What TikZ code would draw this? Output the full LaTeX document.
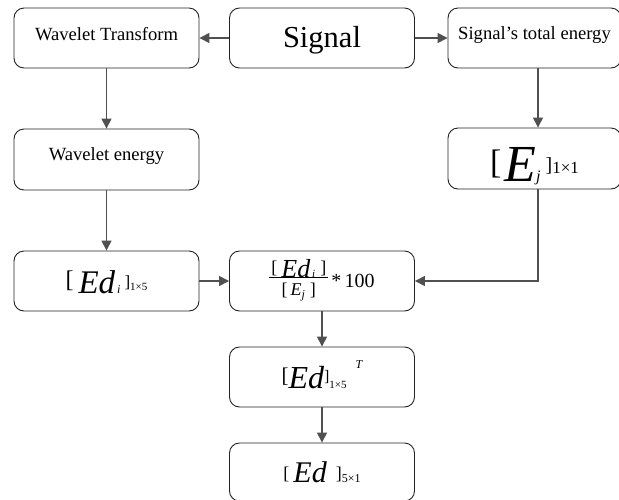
\documentclass[tikz,border=0pt]{standalone}
\usepackage{fontspec}
\setmainfont{Liberation Serif}
\usetikzlibrary{arrows.meta}
\definecolor{arrc}{HTML}{505050}
\definecolor{boxc}{HTML}{222222}
\newcommand{\fsz}[1]{\fontsize{#1}{#1}\selectfont}
\begin{document}
\begin{tikzpicture}[x=1pt,y=-1pt,
  box/.style={draw=boxc,line width=0.9pt,rounded corners=10pt,minimum width=185pt,minimum height=60pt,inner sep=0pt},
  arr/.style={draw=arrc,line width=1.4pt,-{Triangle[length=10pt,width=10pt]}}]
\useasboundingbox (0,0) rectangle (619,499);
\begin{scope}
\clip (0,0) rectangle (619,499);
\node[box] (wt) at (106.5,38) {\smash{\raisebox{-2pt}{\fsz{18.6}Wavelet Transform}}};
\node[box] (sig) at (322,38) {\smash{\raisebox{-9.5pt}{\fsz{30.5}Signal}}};
\node[box,minimum width=173pt] (ste) at (534.5,38) {\smash{\raisebox{-1pt}{\fsz{18.6}Signal’s total energy}}};
\node[box,minimum height=61pt] (we) at (106.5,159.5) {\smash{\raisebox{-0.5pt}{\fsz{18.6}Wavelet energy}}};
\node[box,minimum width=173pt,minimum height=61pt] (ej) at (534.5,158.5) {\smash{\raisebox{-23pt}{%
  \raisebox{8pt}{\fsz{34}[}\hspace{3pt}{\fsz{52}\itshape E}{\fsz{16}\itshape j}\hspace{5pt}\raisebox{10pt}{\fsz{20}]}\raisebox{8pt}{\fsz{17}1×1}}}};
\node[box] (edi) at (106.5,281) {\smash{\raisebox{-12pt}{%
  \raisebox{6pt}{\fsz{24}[}\hspace{5pt}{\fsz{33}\itshape Ed}{\fsz{12}\itshape\,i}\hspace{4pt}\raisebox{6pt}{\fsz{17}]}\raisebox{3pt}{\fsz{11}1×5}}}};
\node[box] (frac) at (322,281) {\smash{%
  \raisebox{4pt}{\renewcommand{\arraystretch}{0}\setlength{\arrayrulewidth}{1pt}%
  \begin{tabular}[t]{@{\hspace{2pt}}c@{\hspace{2pt}}}
  \raisebox{4pt}{\fsz{18}[}\hspace{4pt}{\fsz{26}\itshape Ed}\hspace{2pt}{\fsz{11}\itshape i}\hspace{5pt}\raisebox{4pt}{\fsz{18}]}\\\hline
  \rule{0pt}{17pt}\fsz{18}[\hspace{3pt}{\itshape E}\raisebox{-3pt}{\fsz{12}\itshape j}\hspace{5pt}]
  \end{tabular}}\hspace{3pt}\raisebox{-6pt}{\fsz{20}*\,100}}};
\node[box] (edt) at (322,377) {\smash{\raisebox{-11pt}{%
  \raisebox{6pt}{\fsz{21}[}{\fsz{32}\itshape Ed}\raisebox{7pt}{\fsz{16}]}{\fsz{11}1×5}\hspace{9pt}\raisebox{20pt}{\fsz{12}\itshape T}}}};
\node[box,minimum height=58pt] (ed) at (322,472) {\smash{\raisebox{-10pt}{%
  \raisebox{3pt}{\fsz{18}[}\hspace{4pt}{\fsz{30}\itshape Ed}\hspace{9pt}\raisebox{3pt}{\fsz{18}]}{\fsz{12}5×1}}}};
\draw[arr] (sig) -- (wt);
\draw[arr] (sig) -- (ste);
\draw[arr] (wt) -- (we);
\draw[arr] ([xshift=3.5pt]ste.south) -- ([xshift=3.5pt]ej.north);
\draw[arr] (we) -- (edi);
\draw[arr] (edi) -- (frac);
\draw[arr] ([xshift=3.5pt]ej.south) |- (frac.east);
\draw[arr] (frac) -- (edt);
\draw[arr] (edt) -- (ed);
\end{scope}
\end{tikzpicture}
\end{document}
